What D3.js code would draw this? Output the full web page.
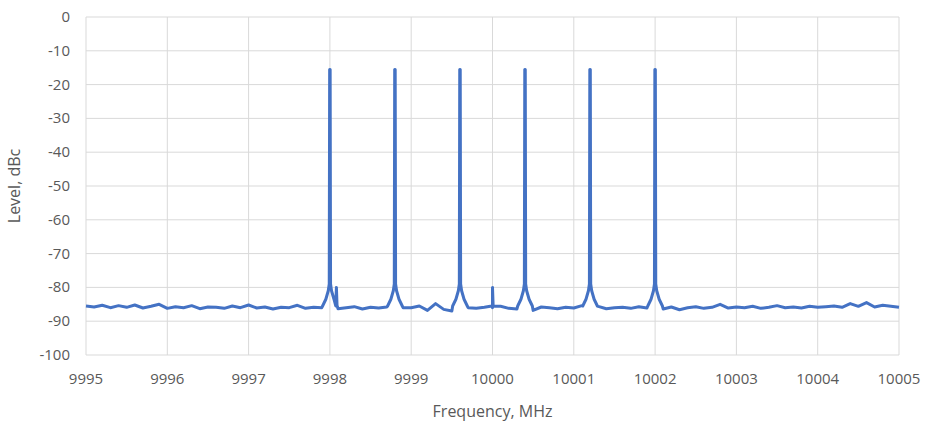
<!DOCTYPE html>
<html><head><meta charset="utf-8">
<script src="https://cdnjs.cloudflare.com/ajax/libs/d3/7.8.5/d3.min.js"></script>
<style>body{margin:0;background:#fff}text{font-family:"Open Sans",sans-serif;fill:#595959}</style>
</head><body><div id="chart"></div>
<script>
// noise floor, 9995..10005 every 0.1 MHz
var floorStart = 9995, floorStep = 0.1;
var floorLevels = [
  -85.5,-85.8,-85.3,-86.0,-85.4,-85.9,-85.2,-86.1,-85.6,-85.0,
  -86.2,-85.7,-86.0,-85.4,-86.3,-85.8,-85.9,-86.2,-85.5,-86.0,
  -85.2,-86.1,-85.8,-86.4,-85.9,-86.0,-85.3,-86.2,-85.9,-86.0,
  -85.1,-86.3,-86.0,-85.7,-86.4,-85.9,-86.1,-85.8,-86.2,-86.0,
  -86.0,-85.5,-86.8,-84.8,-86.5,-87.0,-86.4,-86.0,-86.2,-85.9,
  -86.0,-85.6,-86.2,-86.4,-85.7,-86.8,-85.8,-86.0,-86.3,-85.9,
  -86.1,-85.4,-86.0,-85.6,-86.3,-86.0,-85.9,-86.2,-85.7,-86.1,
  -86.0,-86.4,-85.8,-86.6,-86.0,-85.7,-86.2,-85.9,-85.0,-86.1,
  -85.8,-86.0,-85.6,-86.2,-85.9,-85.4,-86.0,-85.8,-86.1,-85.6,
  -85.9,-85.7,-85.5,-85.9,-84.8,-85.6,-84.5,-85.8,-85.3,-85.6,-85.9
];
var carriers = [9998.0, 9998.8, 9999.6, 10000.4, 10001.2, 10002.0];
var peakOffsets = [-0.09, -0.05, -0.02, -0.008, -0.003, 0.003, 0.008, 0.02, 0.05, 0.09];
var peakLevels  = [-85.5, -83.5, -81.0, -79.0, -15.5, -15.5, -79.0, -81.0, -83.5, -85.5];
var spurFreqs = [9998.08, 10000.0];
var spurLevels = [-80, -80];
var xTicks = [9995,9996,9997,9998,9999,10000,10001,10002,10003,10004,10005];
var yTicks = [0,-10,-20,-30,-40,-50,-60,-70,-80,-90,-100];

var W = 926, H = 425;
var m = {left: 86, right: 27, top: 17, bottom: 70};
var svg = d3.select("#chart").append("svg").attr("width", W).attr("height", H);
var x = d3.scaleLinear().domain([9995, 10005]).range([m.left, W - m.right]);
var y = d3.scaleLinear().domain([-100, 0]).range([H - m.bottom, m.top]);

// build points
var pts = floorLevels.map(function(v, i) { return [floorStart + i * floorStep, v]; });
// drop floor points that fall under a peak skirt
pts = pts.filter(function(p) {
  return !carriers.some(function(c) { return Math.abs(p[0] - c) < 0.095; });
});
carriers.forEach(function(c) {
  peakOffsets.forEach(function(o, i) { pts.push([c + o, peakLevels[i]]); });
});
spurFreqs.forEach(function(f, i) {
  pts.push([f - 0.008, -85.5]); pts.push([f, spurLevels[i]]); pts.push([f + 0.008, -85.5]);
});
pts.sort(function(a, b) { return a[0] - b[0]; });

// grid
svg.append("g").selectAll("line").data(yTicks).enter().append("line")
  .attr("x1", x(9995)).attr("x2", x(10005))
  .attr("y1", function(d) { return y(d); }).attr("y2", function(d) { return y(d); })
  .attr("stroke", "#d9d9d9").attr("stroke-width", 1);
svg.append("g").selectAll("line").data(xTicks).enter().append("line")
  .attr("y1", y(0)).attr("y2", y(-100))
  .attr("x1", function(d) { return x(d); }).attr("x2", function(d) { return x(d); })
  .attr("stroke", "#d9d9d9").attr("stroke-width", 1);

// tick labels
svg.append("g").selectAll("text").data(yTicks).enter().append("text")
  .attr("x", m.left - 16).attr("y", function(d) { return y(d) + 5; })
  .attr("text-anchor", "end").attr("font-size", 15).text(function(d) { return d; });
svg.append("g").selectAll("text").data(xTicks).enter().append("text")
  .attr("x", function(d) { return x(d); }).attr("y", y(-100) + 29)
  .attr("text-anchor", "middle").attr("font-size", 15).text(function(d) { return d; });

svg.append("text").attr("x", (m.left + W - m.right) / 2).attr("y", 417)
  .attr("text-anchor", "middle").attr("font-size", 16).text("Frequency, MHz");
svg.append("text").attr("transform", "translate(20," + ((m.top + H - m.bottom) / 2) + ") rotate(-90)")
  .attr("text-anchor", "middle").attr("font-size", 16).text("Level, dBc");

// trace
var line = d3.line().x(function(d) { return x(d[0]); }).y(function(d) { return y(d[1]); });
svg.append("path").datum(pts).attr("d", line)
  .attr("fill", "none").attr("stroke", "#4472c4").attr("stroke-width", 3)
  .attr("stroke-linejoin", "round");
</script></body></html>
